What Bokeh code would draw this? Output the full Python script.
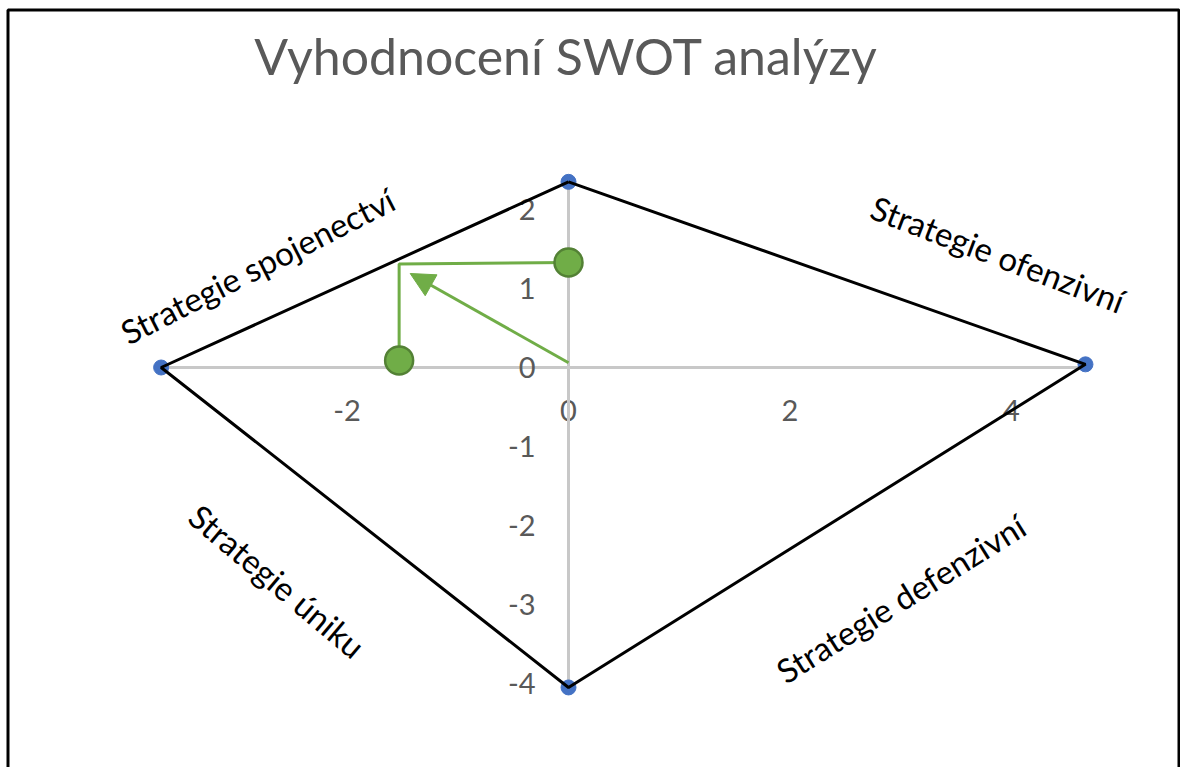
from bokeh.plotting import figure
from bokeh.models import Range1d, FixedTicker, Arrow, NormalHead, Label, BoxAnnotation, ColumnDataSource
from bokeh.core.properties import value
from bokeh.embed import file_html
from bokeh.resources import INLINE

# ---- data ----
title_text = "Vyhodnocení SWOT analýzy"
# diamond vertices (top, right, bottom, left)
vert_x = [0.0, 4.67, 0.0, -3.68]
vert_y = [2.35, 0.04, -4.05, 0.0]
# resulting strategy path
path_x = [-1.53, -1.53, 0.0]
path_y = [0.09, 1.31, 1.33]
dot_x = [-1.53, 0.0]
dot_y = [0.09, 1.33]
# arrow from origin to result
arrow_start = (0.0, 0.06)
arrow_end = (-1.43, 1.19)
x_ticks = [-2, 0, 2, 4]
y_ticks = [-4, -3, -2, -1, 0, 1, 2]
quad_labels = ["Strategie spojenectví", "Strategie ofenzivní", "Strategie úniku", "Strategie defenzivní"]
quad_x = [-2.81, 3.88, -2.63, 3.0]
quad_y = [1.29, 1.44, -2.70, -2.92]
quad_angle = [27, -21, -40, 32]

FONT = "Lato"
W, H = 1180, 767
PXX, PXY = 110.7, 79.0
X0, Y0 = 568, 367  # canvas position of origin

x_start, x_end = -X0 / PXX, (W - X0) / PXX
y_start, y_end = -(H - Y0) / PXY, Y0 / PXY

p = figure(width=W, height=H, x_range=Range1d(x_start, x_end), y_range=Range1d(y_start, y_end),
           output_backend="svg", toolbar_location=None, min_border=0,
           outline_line_color=None, background_fill_color="white", border_fill_color="white")
p.grid.visible = False

for ax, ticks, bounds in ((p.xaxis, x_ticks, (min(vert_x), max(vert_x))),
                          (p.yaxis, y_ticks, (min(vert_y), max(vert_y)))):
    ax.fixed_location = 0
    ax.ticker = FixedTicker(ticks=ticks)
    ax.major_label_overrides = {t: str(t) for t in ticks}
    ax.bounds = bounds
    ax.axis_line_color = "#C8C8C8"
    ax.axis_line_width = 3
    ax.major_tick_line_color = None
    ax.major_tick_in = 0
    ax.major_tick_out = 0
    ax.minor_tick_line_color = None
    ax.major_label_text_font = FONT
    ax.major_label_text_font_size = "29px"
    ax.major_label_text_color = "#595959"
    ax.level = "underlay"

p.xaxis.major_label_standoff = 32
p.yaxis.major_label_standoff = 33

# border
bx0 = (7.5 - X0) / PXX
bx1 = (W - 1.5 - X0) / PXX
by1 = (Y0 - 9.5) / PXY
p.add_layout(BoxAnnotation(left=bx0, right=bx1, top=by1, bottom=y_start - 3,
                           fill_color=None, line_color="black", line_alpha=1.0, line_width=3))

# title
p.add_layout(Label(x=-0.02, y=(Y0 - 55) / PXY, text=title_text, text_font=FONT, text_font_size="50px",
                   text_color="#595959", text_align="center", text_baseline="middle"))

# diamond
p.scatter(vert_x, vert_y, size=15, color="#4472C4")
p.line(vert_x + vert_x[:1], vert_y + vert_y[:1], line_color="black", line_width=3)

# green result
green = "#70AD47"
p.line(path_x, path_y, line_color=green, line_width=3)
p.add_layout(Arrow(end=NormalHead(size=24, fill_color=green, line_color=green),
                   x_start=arrow_start[0], y_start=arrow_start[1],
                   x_end=arrow_end[0], y_end=arrow_end[1],
                   line_color=green, line_width=3))
p.scatter(dot_x, dot_y, size=28, fill_color=green, line_color="#538135", line_width=2.5)

src = ColumnDataSource(dict(x=quad_x, y=quad_y, t=quad_labels, a=quad_angle))
p.text(x="x", y="y", text="t", angle="a", angle_units="deg", source=src,
       text_font=value(FONT), text_font_size="33px", text_color="black",
       text_align="center", text_baseline="middle")

open("out.html", "w").write(file_html(p, INLINE))
